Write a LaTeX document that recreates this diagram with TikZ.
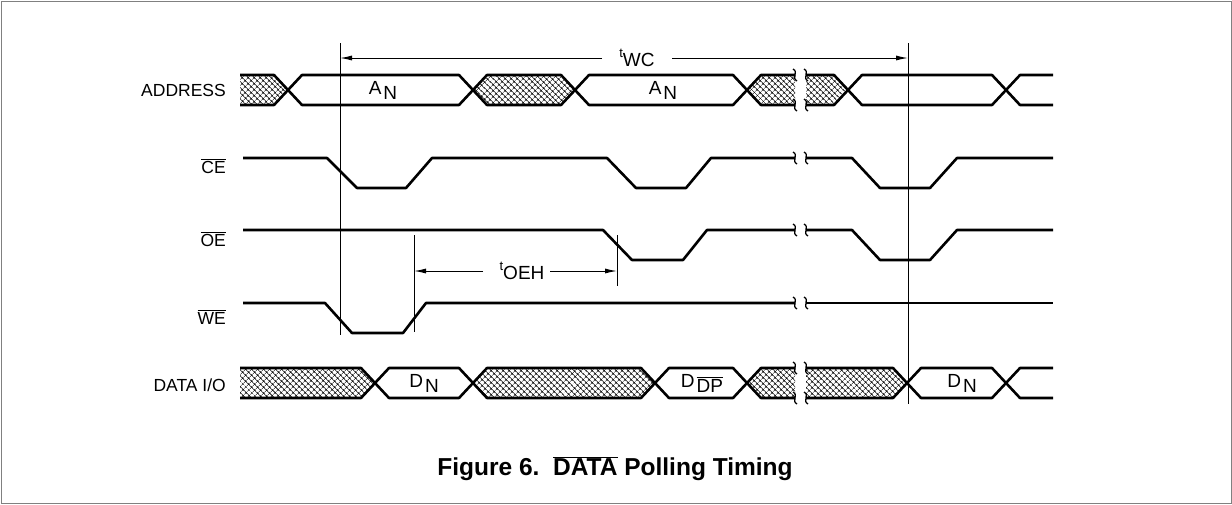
\documentclass[tikz,border=0pt]{standalone}
\usepackage{fontspec}
\setmainfont{Liberation Sans}
\usetikzlibrary{patterns.meta,arrows.meta}
\newcommand\lowsub[2]{#1\kern2pt\raisebox{-5pt}{#2}}
\newcommand\tsub[1]{\raisebox{6pt}{\fontsize{13}{13}\selectfont t}\raisebox{-3pt}{#1}}
\newcommand\brkmark[2]{\draw[brk] (#1-2,#2-6) .. controls (#1+4,#2-3) and (#1-4,#2+3) .. (#1+2,#2+6);}
\begin{document}
\begin{tikzpicture}[x=1pt,y=-1pt,
  sig/.style={line width=2.6pt,line join=round},
  hz/.style={pattern={Hatch[angle=45,distance=4pt,line width=0.5pt]}},
  tline/.style={line width=1pt},
  arr/.style={line width=1pt,-{Latex[length=12pt,width=5pt]}},
  brk/.style={line width=1.3pt},
  lbl/.style={anchor=east,inner sep=0pt,font=\fontsize{17.5}{20}\selectfont},
  inl/.style={inner sep=0pt,font=\fontsize{19}{22}\selectfont}]
\useasboundingbox (0,0) rectangle (1232,504);
\draw[gray,line width=1pt] (1,1) rectangle (1231,503);

% labels
\node[lbl] (addr) at (226,90) {ADDRESS};
\node[lbl] (ce) at (226,166) {$\overline{\mbox{CE}}$};
\node[lbl] (oe) at (226,239) {$\overline{\mbox{OE}}$};
\node[lbl] (we) at (226,317) {$\overline{\mbox{WE}}$};
\node[lbl] (dio) at (226,385) {DATA I/O};

% vertical timing references
\coordinate (v1t) at (340,43); \coordinate (v1b) at (340,335);
\coordinate (v2t) at (908,43); \coordinate (v2b) at (908,404);
\coordinate (v3t) at (414,235); \coordinate (v3b) at (414,332);
\coordinate (v4t) at (617,235); \coordinate (v4b) at (617,286);
\draw[tline] (v1t) -- (v1b);
\draw[tline] (v2t) -- (v2b);
\draw[tline] (v3t) -- (v3b);
\draw[tline] (v4t) -- (v4b);

% tWC
\node[inl] (twc) at (637,58) {\tsub{WC}};
\coordinate (wcL) at (340,58); \coordinate (wcR) at (908,58);
\coordinate (wca) at (602,58); \coordinate (wcb) at (672,58);
\draw[arr] (wca) -- (wcL);
\draw[arr] (wcb) -- (wcR);

% tOEH
\node[inl] (toeh) at (522,271) {\tsub{OEH}};
\coordinate (ohL) at (414,271); \coordinate (ohR) at (617,271);
\coordinate (oha) at (483,271); \coordinate (ohb) at (550,271);
\draw[arr] (oha) -- (ohL);
\draw[arr] (ohb) -- (ohR);

% ADDRESS bus
\fill[hz] (240,75) -- (274,75) -- (288,90) -- (274,105) -- (240,105) -- cycle;
\draw[sig] (240,75) -- (274,75) -- (288,90) -- (274,105) -- (240,105);
\draw[sig] (288,90) -- (302,75) -- (459,75) -- (473,90) -- (459,105) -- (302,105) -- cycle;
\node[inl] (an1) at (383,90) {\lowsub{A}{N}};
\draw[sig,hz] (473,90) -- (487,75) -- (561,75) -- (575,90) -- (561,105) -- (487,105) -- cycle;
\draw[sig] (575,90) -- (589,75) -- (733,75) -- (747,90) -- (733,105) -- (589,105) -- cycle;
\node[inl] (an2) at (663,90) {\lowsub{A}{N}};
\fill[hz] (747,90) -- (761,75) -- (795,75) -- (795,105) -- (761,105) -- cycle;
\draw[sig] (795,75) -- (761,75) -- (747,90) -- (761,105) -- (795,105);
\fill[hz] (806,75) -- (834,75) -- (848,90) -- (834,105) -- (806,105) -- cycle;
\draw[sig] (806,75) -- (834,75) -- (848,90) -- (834,105) -- (806,105);
\draw[sig] (848,90) -- (862,75) -- (992,75) -- (1006,90) -- (992,105) -- (862,105) -- cycle;
\draw[sig] (1006,90) -- (1020,75) -- (1053,75);
\draw[sig] (1006,90) -- (1020,105) -- (1053,105);
\brkmark{795}{75}\brkmark{795}{105}\brkmark{806}{75}\brkmark{806}{105}

% CE
\draw[sig] (243,158) -- (327,158) -- (357,188) -- (406,188) -- (432,158) -- (607,158) -- (636,188) -- (686,188) -- (711,158) -- (795,158);
\draw[sig] (806,158) -- (852,158) -- (880,188) -- (930,188) -- (957,158) -- (1053,158);
\brkmark{795}{158}\brkmark{806}{158}

% OE
\draw[sig] (243,230) -- (603,230) -- (632,260) -- (683,260) -- (707,230) -- (795,230);
\draw[sig] (806,230) -- (852,230) -- (880,260) -- (930,260) -- (957,230) -- (1053,230);
\brkmark{795}{230}\brkmark{806}{230}

% WE
\draw[sig] (243,303) -- (325,303) -- (352,333) -- (403,333) -- (426,303) -- (795,303);
\draw[sig] (806,303) -- (1053,303);
\brkmark{795}{303}\brkmark{806}{303}

% DATA I/O bus
\fill[hz] (240,368) -- (361,368) -- (375,383) -- (361,398) -- (240,398) -- cycle;
\draw[sig] (240,368) -- (361,368) -- (375,383) -- (361,398) -- (240,398);
\draw[sig] (375,383) -- (389,368) -- (459,368) -- (473,383) -- (459,398) -- (389,398) -- cycle;
\node[inl] (dn1) at (424,383) {\lowsub{D}{N}};
\draw[sig,hz] (473,383) -- (487,368) -- (641,368) -- (655,383) -- (641,398) -- (487,398) -- cycle;
\draw[sig] (655,383) -- (669,368) -- (733,368) -- (747,383) -- (733,398) -- (669,398) -- cycle;
\node[inl] (ddp) at (702,383) {\lowsub{D}{$\overline{\mbox{DP}}$}};
\fill[hz] (747,383) -- (761,368) -- (795,368) -- (795,398) -- (761,398) -- cycle;
\draw[sig] (795,368) -- (761,368) -- (747,383) -- (761,398) -- (795,398);
\fill[hz] (806,368) -- (893,368) -- (907,383) -- (893,398) -- (806,398) -- cycle;
\draw[sig] (806,368) -- (893,368) -- (907,383) -- (893,398) -- (806,398);
\draw[sig] (907,383) -- (921,368) -- (992,368) -- (1006,383) -- (992,398) -- (921,398) -- cycle;
\node[inl] (dn2) at (962,383) {\lowsub{D}{N}};
\draw[sig] (1006,383) -- (1020,368) -- (1053,368);
\draw[sig] (1006,383) -- (1020,398) -- (1053,398);
\brkmark{795}{368}\brkmark{795}{398}\brkmark{806}{368}\brkmark{806}{398}

% caption
\node[inner sep=0pt,font=\bfseries\fontsize{24.5}{28}\selectfont] (cap) at (615,469) {Figure 6.\ \ $\overline{\mbox{DATA}}$ Polling Timing};
\end{tikzpicture}
\end{document}
